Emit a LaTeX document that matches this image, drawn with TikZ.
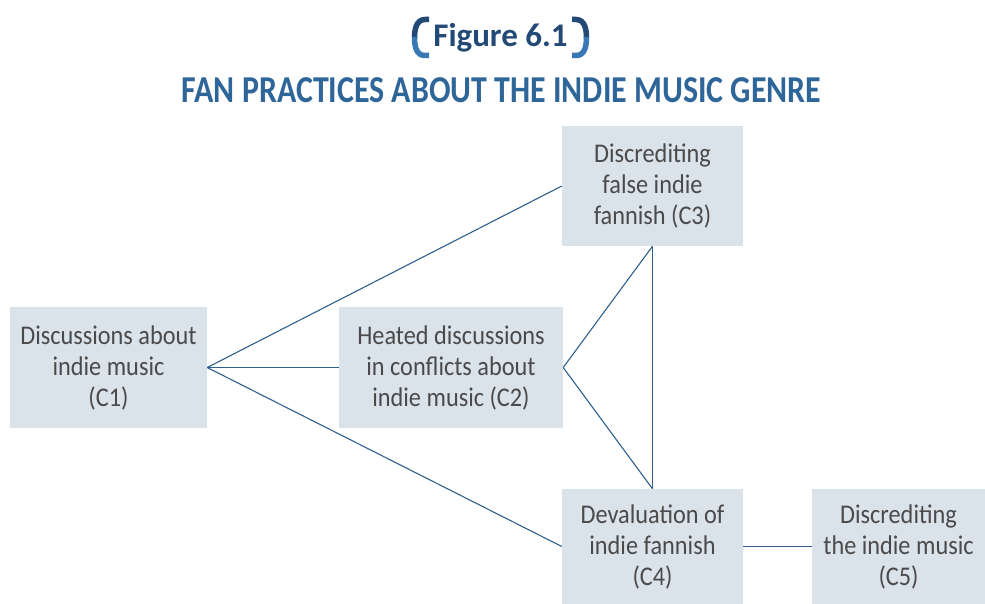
\documentclass[tikz,border=0pt]{standalone}
\usepackage{fontspec}
\setmainfont{Carlito}
\newfontfamily\condfont{Carlito}[FakeStretch=0.9]
\newfontfamily\titlefont{Carlito}[FakeStretch=0.84]
\definecolor{boxfill}{HTML}{DAE2EA}
\definecolor{linec}{HTML}{2E5F8E}
\definecolor{titlec}{HTML}{2F6699}
\definecolor{figc}{HTML}{234A77}
\definecolor{brackc}{HTML}{3A78B5}
\definecolor{txt}{HTML}{4A4A4A}
\begin{document}
\begin{tikzpicture}[x=1pt,y=-1pt,
  cbox/.style={fill=boxfill,draw=none,inner sep=0pt,align=center,text=txt,font=\condfont\fontsize{27}{31}\selectfont},
  conn/.style={draw=linec,line width=1.1pt}]
\useasboundingbox (0,0) rectangle (985,604);
% title
\node[font=\fontsize{33}{36}\selectfont\bfseries,text=figc] (fig) at (500.5,38) {Figure 6.1};
\draw[line width=5.5pt,figc] (429,19.5) -- (425,19.5) .. controls (416,19.5) and (414.5,30) .. (414.5,38);
\draw[line width=5.5pt,brackc] (414.5,37) .. controls (414.5,46) and (416,55.5) .. (425,55.5) -- (429,55.5);
\draw[line width=5.5pt,figc] (572,19.5) -- (576,19.5) .. controls (585,19.5) and (586.5,30) .. (586.5,38);
\draw[line width=5.5pt,brackc] (586.5,37) .. controls (586.5,46) and (585,55.5) .. (576,55.5) -- (572,55.5);
\node[font=\titlefont\fontsize{38}{40}\selectfont\bfseries,text=titlec] (title) at (501.5,90) {FAN PRACTICES ABOUT THE INDIE MUSIC GENRE};
% boxes
\node[cbox,minimum width=197pt,minimum height=121pt] (c1) at (108.5,367.5) {Discussions about\\indie music\\(C1)};
\node[cbox,minimum width=224pt,minimum height=121pt] (c2) at (451,367.5) {Heated discussions\\in conflicts about\\indie music (C2)};
\node[cbox,minimum width=181pt,minimum height=120pt] (c3) at (652.5,186) {Discrediting\\false indie\\fannish (C3)};
\node[cbox,minimum width=181pt,minimum height=115pt] (c4) at (652.5,546.5) {Devaluation of\\indie fannish\\(C4)};
\node[cbox,minimum width=173pt,minimum height=115pt] (c5) at (898.5,546.5) {Discrediting\\the indie music\\(C5)};
% connectors
\draw[conn] (c1.east) -- (c3.west);
\draw[conn] (c1.east) -- (c2.west);
\draw[conn] (c1.east) -- (c4.west);
\draw[conn] (c2.east) -- (c3.south);
\draw[conn] (c2.east) -- (c4.north);
\draw[conn] (c3.south) -- (c4.north);
\draw[conn] (c4.east) -- (c5.west);
\end{tikzpicture}
\end{document}
